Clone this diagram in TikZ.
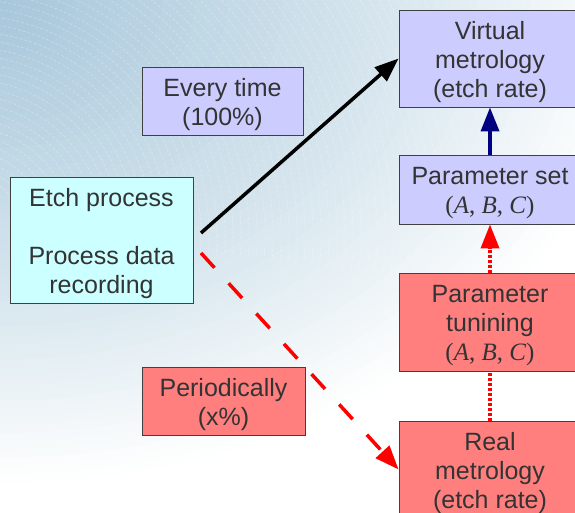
\documentclass[tikz,border=0pt]{standalone}
\usepackage{fontspec}
\setmainfont{Liberation Sans}
\newfontfamily\tmsfont{Liberation Serif}
\usetikzlibrary{arrows.meta}

\definecolor{bgA}{HTML}{A6C6DA}
\definecolor{bgB}{HTML}{DCE9F0}
\definecolor{lav}{HTML}{CCCCFF}
\definecolor{cyanbox}{HTML}{CCFFFF}
\definecolor{salmon}{HTML}{FF7F7F}
\definecolor{txt}{HTML}{333333}
\definecolor{edge}{HTML}{404040}
\definecolor{navyblue}{HTML}{000080}
\definecolor{brightred}{HTML}{FF0000}

\newcommand\abcset{{\tmsfont(\textit{A}, \textit{B}, \textit{C})}}
% taller first line, so the text block sits a little lower in its box
\newcommand\topstrut{\rule{0pt}{24.5pt}}

\begin{document}
\begin{tikzpicture}[x=1pt,y=1pt,
  box/.style={draw=edge, line width=0.8pt, text=txt, align=center,
    inner sep=0pt, font=\fontsize{25}{29}\selectfont},
  bigtip/.style={-{Triangle[length=24pt,width=18pt]}},
  blackarrow/.style={bigtip, line width=3.5pt, black},
  reddash/.style={bigtip, line width=3.5pt, brightred, dash pattern=on 20pt off 21pt},
  navyarrow/.style={bigtip, line width=3.5pt, navyblue},
  reddot/.style={line width=3.5pt, brightred, dash pattern=on 3pt off 2pt},
]
\useasboundingbox (0,0) rectangle (575,512);

% background: blue wash from the top left corner fading to white,
% built from nested ellipses, plus faint concentric lines
\begin{scope}
  \clip (0,0) rectangle (575,512);
  \fill[white] (0,0) rectangle (575,512);
  \foreach \i in {0,...,59}{
    \pgfmathsetmacro\f{1-\i/60}
    \pgfmathsetmacro\pa{min(100,max(0,(1-\f)/0.34*100))}
    \pgfmathsetmacro\pb{min(100,max(0,(0.66-\f)/0.66*100))}
    \colorlet{ringouter}{bgB!\pa!white}
    \colorlet{ringc}{bgA!\pb!ringouter}
    \fill[ringc] (0,512) ellipse [x radius=650*\f, y radius=490*\f];
  }
  \foreach \r in {60,68,...,760}
    \draw[white, opacity=0.35, line width=0.5pt, dash pattern=on 3pt off 2pt]
      (-35,277) ++(-5:\r) arc[start angle=-5, end angle=95, radius=\r];
\end{scope}

% boxes
\node[box, fill=lav, minimum width=161, minimum height=68] (every) at (222.5,411)
  {\topstrut Every time\\(100\%)};
\node[box, fill=cyanbox, minimum width=183, minimum height=126] (etch) at (101.5,272)
  {\topstrut Etch process\\[29pt]Process data\\recording};
\node[box, fill=salmon, minimum width=163, minimum height=68] (period) at (223.5,111)
  {\topstrut Periodically\\(x\%)};
\node[box, fill=lav, minimum width=182, minimum height=97] (virt) at (490,453.5)
  {\topstrut Virtual\\metrology\\(etch rate)};
\node[box, fill=lav, minimum width=182, minimum height=69] (pset) at (490,322.5)
  {\topstrut Parameter set\\\abcset};
\node[box, fill=salmon, minimum width=182, minimum height=98] (tune) at (490,190)
  {\topstrut Parameter\\tunining\\\abcset};
\node[box, fill=salmon, minimum width=182, minimum height=97] (real) at (490,42.5)
  {\topstrut Real\\metrology\\(etch rate)};

% connectors
\coordinate (up) at (201,279);
\coordinate (down) at (201,259);
\draw[blackarrow] (up) -- (virt.west);
\draw[reddash] (down) -- (real.west);
\draw[navyarrow] (pset.north) -- (virt.south);
\draw[reddot] (real.north) -- (tune.south);
\draw[reddot, bigtip] (tune.north) -- (pset.south);
\end{tikzpicture}
\end{document}
